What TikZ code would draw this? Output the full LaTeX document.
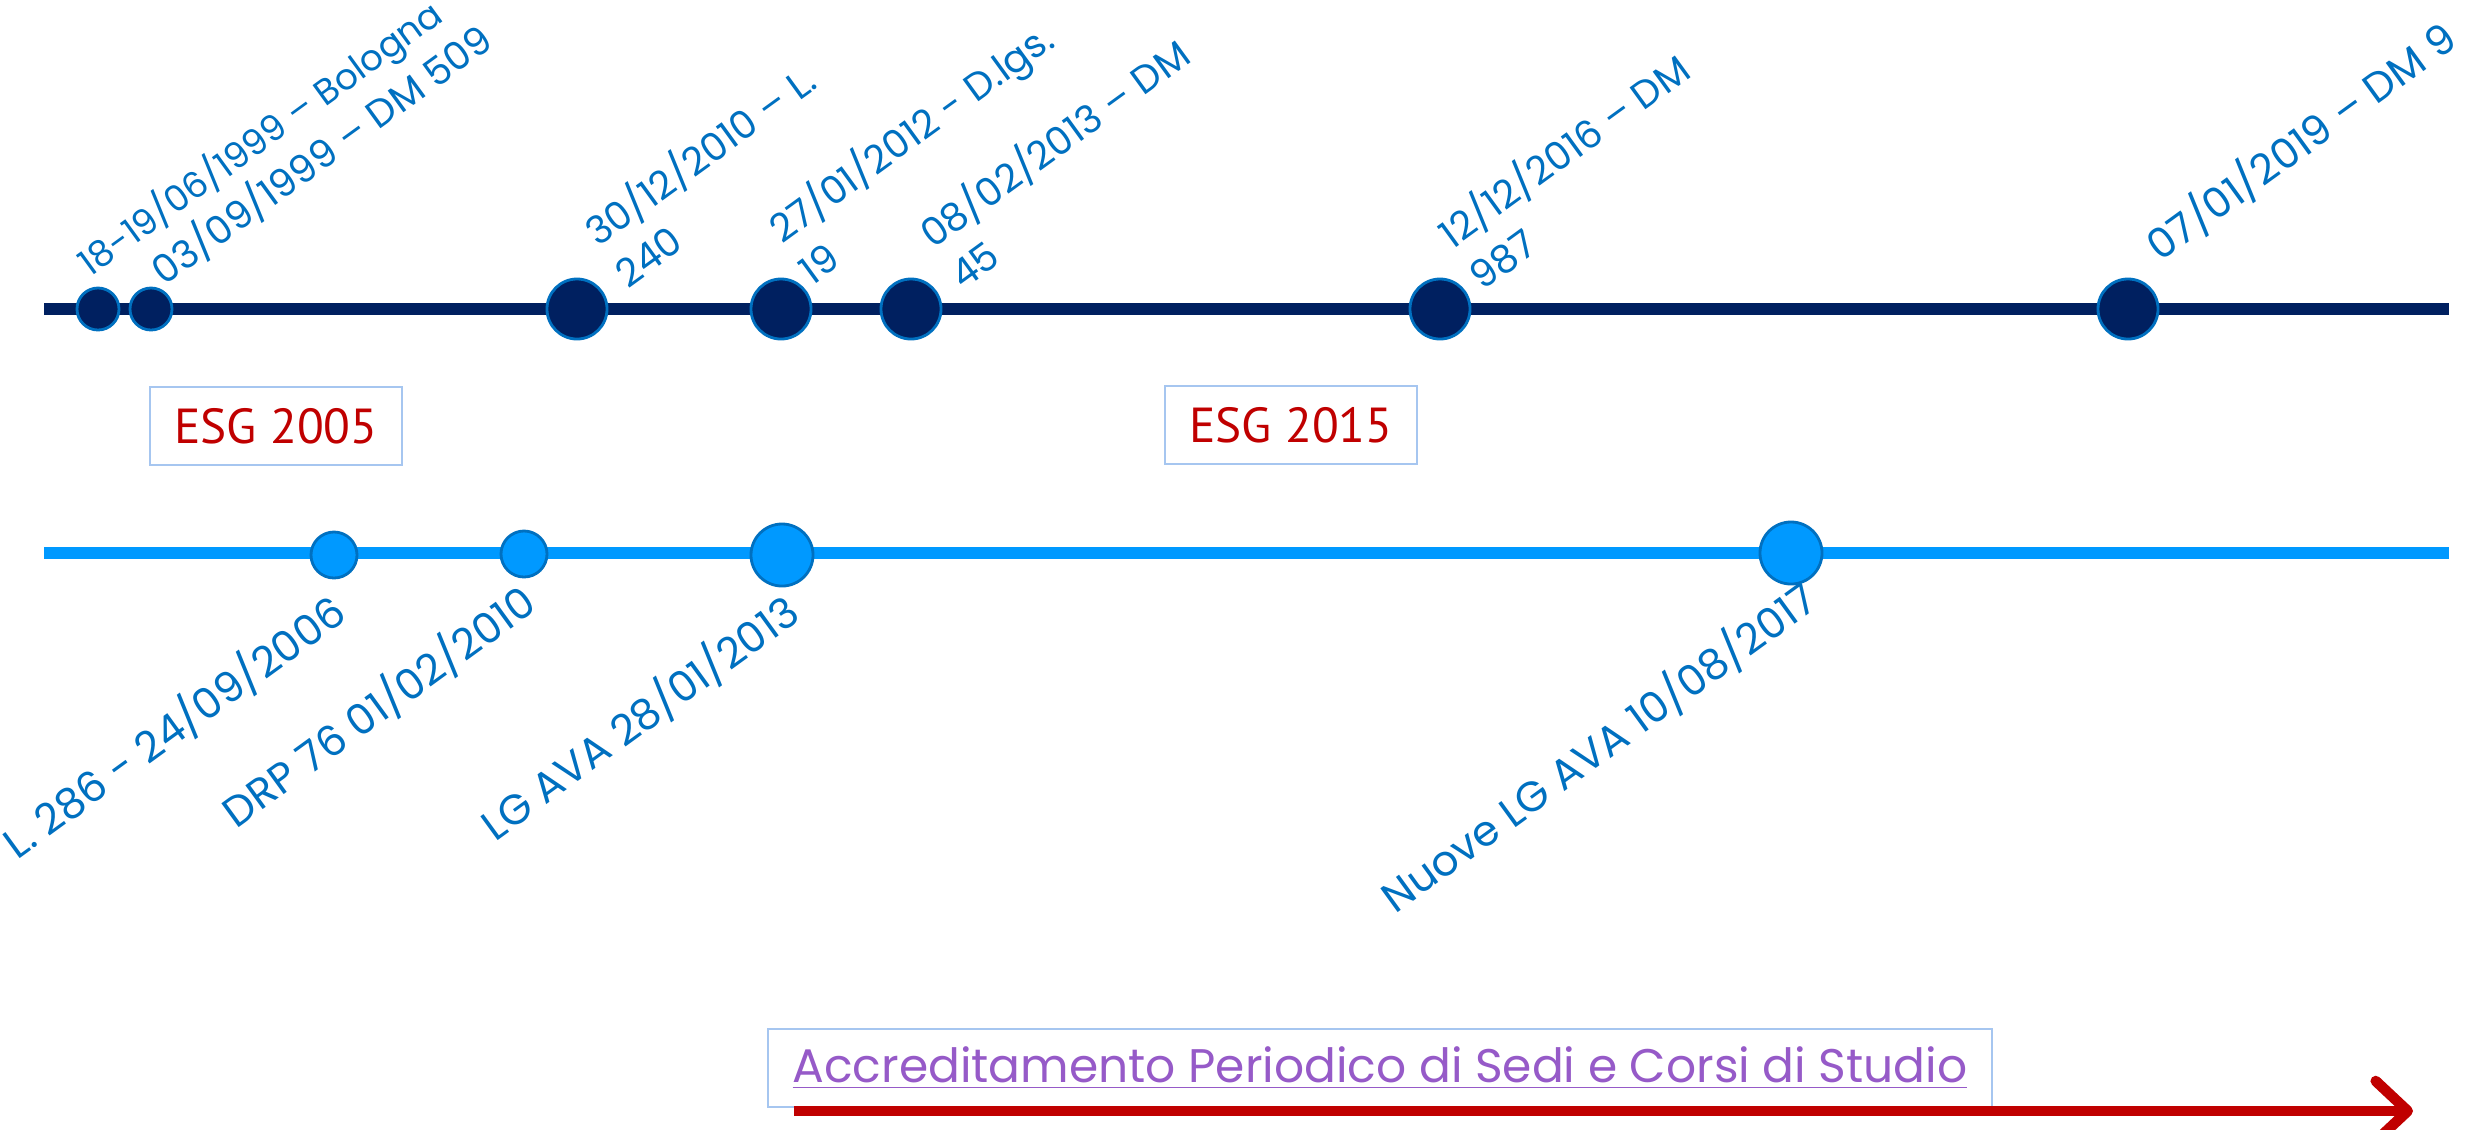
\documentclass[tikz,border=0pt]{standalone}
\usepackage{fontspec}
\setmainfont{Poppins}
\newfontfamily\esgfont{PT Sans}
\usetikzlibrary{arrows.meta, positioning}

\definecolor{navy}{RGB}{0,32,96}
\definecolor{sky}{RGB}{0,153,255}
\definecolor{rimblue}{RGB}{0,112,192}
\definecolor{boxblue}{RGB}{166,198,240}
\definecolor{esgred}{RGB}{192,0,0}
\definecolor{linkpurple}{RGB}{150,90,200}

\tikzset{
  navyline/.style={navy, line width=3.6pt},
  skyline/.style={sky, line width=3.3pt},
  navydot/.style={circle, draw=rimblue, fill=navy, line width=0.8pt, inner sep=0pt},
  skydot/.style={circle, draw=rimblue, fill=sky, line width=0.8pt, inner sep=0pt},
  uplabel/.style={rotate=36, text=rimblue, inner sep=0pt, align=left, font=\fontsize{11}{14.5}\selectfont},
  lowlabel/.style={rotate=36, text=rimblue, inner sep=0pt, anchor=north east, font=\fontsize{12}{14.5}\selectfont},
  esgbox/.style={draw=boxblue, line width=0.6pt, minimum width=2.52cm, minimum height=0.78cm, text=esgred, font=\esgfont\fontsize{14}{16}\selectfont},
  linkbox/.style={draw=boxblue, line width=0.6pt, minimum width=12.24cm, minimum height=0.78cm, text=linkpurple, font=\fontsize{13.4}{15}\selectfont},
  redarrow/.style={esgred, line width=3pt, -{Straight Barb[length=0.32cm, width=0.6cm, round]}}
}

\begin{document}
\begin{tikzpicture}[x=0.01cm, y=-0.01cm]
\useasboundingbox[fill=white] (0,0) rectangle (2481,1129);

% upper time line
\coordinate (navyL) at (44,309);
\coordinate (navyR) at (2449,309);
\draw[navyline] (navyL) -- (navyR);
\node[navydot, minimum size=0.42cm] (n1999a) at (98,309) {};
\node[navydot, minimum size=0.42cm] (n1999b) at (151,309) {};
\node[navydot, minimum size=0.6cm] (n2010) at (577,309) {};
\node[navydot, minimum size=0.6cm] (n2012) at (781,309) {};
\node[navydot, minimum size=0.6cm] (n2013) at (911,309) {};
\node[navydot, minimum size=0.6cm] (n2016) at (1440,309) {};
\node[navydot, minimum size=0.6cm] (n2019) at (2128,309) {};

\node[uplabel, anchor=base west, font=\fontsize{10.2}{14.5}\selectfont] (t1999a) at (90,278) {18-19/06/1999 – Bologna};
\node[uplabel, anchor=base west] (t1999b) at (164,287) {03/09/1999 – DM 509};
\node[uplabel, anchor=south west] (t2010) at (628,290) {30/12/2010 – L.\\240};
\node[uplabel, anchor=south west] (t2012) at (812,287) {27/01/2012 - D.lgs.\\19};
\node[uplabel, anchor=south west] (t2013) at (963,292) {08/02/2013 – DM\\45};
\node[uplabel, anchor=south west] (t2016) at (1483,293) {12/12/2016 – DM\\987};
\node[uplabel, anchor=base west, font=\fontsize{11.8}{14.5}\selectfont] (t2019) at (2160,263) {07/01/2019 – DM 9};

% ESG boxes
\node[esgbox] (esg2005) at (276,426) {ESG 2005};
\node[esgbox] (esg2015) at (1291,425) {ESG 2015};

% lower time line
\coordinate (skyL) at (44,553);
\coordinate (skyR) at (2449,553);
\draw[skyline] (skyL) -- (skyR);
\node[skydot, minimum size=0.46cm] (s2006) at (334,555) {};
\node[skydot, minimum size=0.46cm] (s2010) at (524,554) {};
\node[skydot, minimum size=0.62cm] (s2013) at (782,555) {};
\node[skydot, minimum size=0.62cm] (s2017) at (1791,553) {};

\node[lowlabel] (b2006) at (326,586) {L. 286 - 24/09/2006};
\node[lowlabel] (b2010) at (516,576) {DRP 76 01/02/2010};
\node[lowlabel] (b2013) at (779,586) {LG AVA 28/01/2013};
\node[lowlabel] (b2017) at (1797,573) {Nuove LG AVA 10/08/2017};

% accreditamento
\node[linkbox] (accr) at (1380,1068) {\underline{Accreditamento Periodico di Sedi e Corsi di Studio}};
\coordinate (arrStart) at (794,1111);
\coordinate (arrEnd) at (2413,1111);
\draw[redarrow] (arrStart) -- (arrEnd);
\end{tikzpicture}
\end{document}
